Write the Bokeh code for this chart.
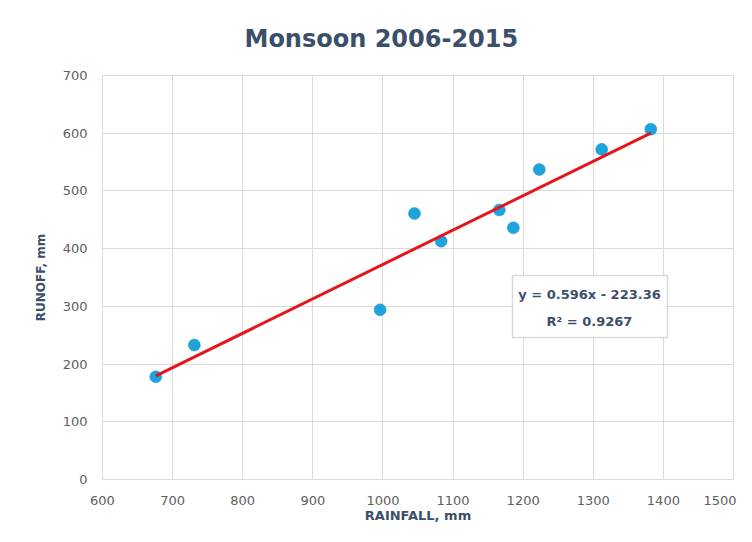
from bokeh.plotting import figure
from bokeh.models import BoxAnnotation, Label, Range1d, FixedTicker
from bokeh.embed import file_html
from bokeh.resources import INLINE

# ---- data ----
rainfall = [676, 731, 996, 1045, 1083, 1166, 1186, 1223, 1312, 1382]
runoff = [178, 233, 294, 461, 413, 467, 436, 537, 572, 607]
slope = 0.596
intercept = -223.36
r_squared = 0.9267
x_ticks = [600, 700, 800, 900, 1000, 1100, 1200, 1300, 1400, 1500]
y_ticks = [0, 100, 200, 300, 400, 500, 600, 700]
title_text = "Monsoon 2006-2015"
x_label_text = "RAINFALL, mm"
y_label_text = "RUNOFF, mm"

TEXT_DARK = "#3B4F6B"
TICK_COLOR = "#606060"
GRID = "#DADADA"
FONT = "DejaVu Sans"

p = figure(width=736, height=526,
           x_range=Range1d(x_ticks[0], x_ticks[-1]),
           y_range=Range1d(y_ticks[0], y_ticks[-1]),
           output_backend="svg", toolbar_location=None,
           min_border_left=102, min_border_right=3,
           min_border_top=75, min_border_bottom=47)
p.title.text = title_text
p.title.text_font = FONT
p.title.text_font_size = "24px"
p.title.text_font_style = "bold"
p.title.text_color = TEXT_DARK
p.title.align = "left"
p.title.offset = 142
p.title.standoff = 42
p.title.vertical_align = "top"

p.background_fill_color = "white"
p.border_fill_color = "white"
p.outline_line_color = GRID

p.xaxis.ticker = FixedTicker(ticks=x_ticks)
p.yaxis.ticker = FixedTicker(ticks=y_ticks)
for ax in (p.xaxis, p.yaxis):
    ax.axis_line_color = None
    ax.major_tick_line_color = None
    ax.minor_tick_line_color = None
    ax.major_tick_out = 0
    ax.major_tick_in = 0
    ax.major_label_text_font = FONT
    ax.major_label_text_font_size = "13px"
    ax.major_label_text_color = TICK_COLOR
    ax.axis_label_text_font = FONT
    ax.axis_label_text_font_style = "bold"
    ax.axis_label_text_color = TEXT_DARK
p.xaxis.major_label_standoff = 16
p.yaxis.major_label_standoff = 15
p.xaxis.axis_label = x_label_text
p.yaxis.axis_label = y_label_text
p.xaxis.axis_label_text_font_size = "13px"
p.yaxis.axis_label_text_font_size = "12px"
p.xaxis.axis_label_standoff = 0
p.yaxis.axis_label_standoff = 12

p.xgrid.grid_line_color = GRID
p.ygrid.grid_line_color = GRID

p.scatter(rainfall, runoff, size=12, color="#1FA3DD", line_color="#1B95C9", line_width=0.5)

x_line = [min(rainfall), max(rainfall)]
y_line = [slope * v + intercept for v in x_line]
p.line(x_line, y_line, line_color="#E3161D", line_width=3)

# trendline equation box
p.add_layout(BoxAnnotation(left=512, right=667, top=275, bottom=337,
                           left_units="canvas", right_units="canvas",
                           top_units="canvas", bottom_units="canvas",
                           fill_color="white", fill_alpha=1,
                           line_color="#7B8799", line_width=1.5))
eq_text = f"y = {slope}x - {abs(intercept)}"
r2_text = f"R² = {r_squared}"
p.add_layout(Label(x=589, y=294, x_units="canvas", y_units="canvas", text=eq_text,
                   text_font=FONT, text_font_size="13px", text_font_style="bold",
                   text_color=TEXT_DARK, text_align="center", text_baseline="middle"))
p.add_layout(Label(x=589, y=321, x_units="canvas", y_units="canvas", text=r2_text,
                   text_font=FONT, text_font_size="13px", text_font_style="bold",
                   text_color=TEXT_DARK, text_align="center", text_baseline="middle"))

open("out.html", "w").write(file_html(p, INLINE))
